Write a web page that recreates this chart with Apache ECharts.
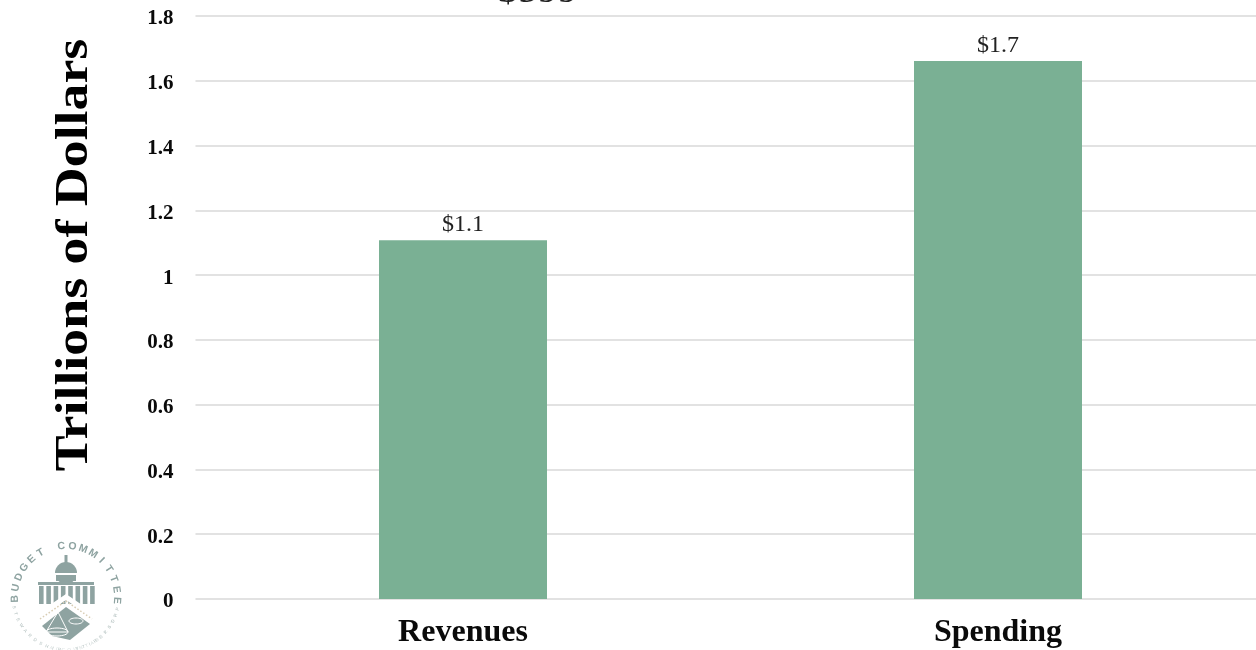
<!DOCTYPE html>
<html><head><meta charset="utf-8">
<style>html,body{margin:0;padding:0;background:#fff;overflow:hidden;width:1256px;height:650px}#c{width:1270px;height:650px}</style>
<script src="https://cdn.jsdelivr.net/npm/echarts@6/dist/echarts.min.js"></script>
</head><body><div id="c"></div>
<script>
const categories = ['Revenues', 'Spending'];
const values = [1.108, 1.661];
const barLabels = ['$1.1', '$1.7'];
const yTitle = 'Trillions of Dollars';
const clippedHeading = '$599';
const SERIF = '"Liberation Serif","DejaVu Serif",serif';
const LOGO = '#8ea3a1';

const chart = echarts.init(document.getElementById('c'), null, {renderer:'canvas', width:1270, height:650});

// logo pieces
const cx = 66, cy = 597, logo = [];
function arcText(str, startDeg, stepDeg, r, size, color, weight, inward){
  [...str].forEach((ch,i)=>{
    const d = startDeg + i*stepDeg, a = d*Math.PI/180;
    logo.push({type:'text', x:cx+r*Math.sin(a), y:cy-r*Math.cos(a), rotation: inward ? -a : Math.PI-a,
      style:{text:ch, fill:color, font:`${weight} ${size}px "Liberation Sans",sans-serif`, align:'center', verticalAlign:'middle'}, silent:true});
  });
}
arcText('BUDGET COMMITTEE', -92, 12.4, 51, 10.5, LOGO, 'bold', true);
arcText('STEWARDSHIP', -101, -7.2, 53, 4.5, '#aebcbb', 'normal', false);
arcText('ACCOUNTABILITY', 196, -6.5, 53, 4.5, '#d3dbda', 'normal', false);
arcText('PROSPERITY', 103, 7.2, 53, 4.5, '#aebcbb', 'normal', false);
// dome
logo.push({type:'circle', shape:{cx:66, cy:573, r:11}, style:{fill:LOGO}, silent:true});
logo.push({type:'rect', shape:{x:55, y:573, width:22, height:5}, style:{fill:'#fff'}, silent:true});
logo.push({type:'rect', shape:{x:64.5, y:555, width:3, height:8}, style:{fill:LOGO}, silent:true});
logo.push({type:'rect', shape:{x:56, y:575, width:20, height:6}, style:{fill:LOGO}, silent:true});
logo.push({type:'rect', shape:{x:38, y:582, width:56, height:3}, style:{fill:LOGO}, silent:true});
for(let i=0;i<8;i++){
  logo.push({type:'rect', shape:{x:39+i*7.3, y:586, width:4.6, height:18}, style:{fill:LOGO}, silent:true});
}
logo.push({type:'polygon', shape:{points:[[42,626],[66,607],[90,624],[70,640],[52,636]]}, style:{fill:LOGO}, silent:true});
logo.push({type:'polyline', shape:{points:[[38,616],[66,597],[94,616]]}, style:{stroke:'#fff', lineWidth:5, fill:null}, silent:true});
logo.push({type:'polyline', shape:{points:[[40,619],[66,601],[92,619]]}, style:{stroke:'#d8cdb4', lineWidth:1.5, lineDash:[1.5,2], fill:null}, silent:true});
logo.push({type:'polygon', shape:{points:[[46,632],[58,612],[68,632]]}, style:{fill:'none', stroke:'#fff', lineWidth:1}, silent:true});
logo.push({type:'ellipse', shape:{cx:57, cy:632, rx:11, ry:4}, style:{fill:'none', stroke:'#fff', lineWidth:1}, silent:true});
logo.push({type:'ellipse', shape:{cx:76, cy:621, rx:7, ry:3}, style:{fill:'none', stroke:'#fff', lineWidth:1}, silent:true});

chart.setOption({
  animation:false,
  backgroundColor:'#fff',
  grid:{left:195.5, width:1070, top:16, height:583},
  xAxis:{type:'category', data:categories,
    axisLine:{show:false}, axisTick:{show:false},
    axisLabel:{color:'#0a0a0a', fontFamily:SERIF, fontWeight:'bold', fontSize:32, margin:18}},
  yAxis:{type:'value', min:0, max:1.8, interval:0.2,
    axisLine:{show:false}, axisTick:{show:false},
    splitLine:{lineStyle:{color:'#e2e2e2', width:2}},
    axisLabel:{margin:22,
      rich:{t:{color:'#0a0a0a', fontFamily:SERIF, fontWeight:'bold', fontSize:21, padding:[6,0,0,0]}},
      formatter:v=>'{t|'+(+v.toFixed(1))+'}'}},
  series:[{type:'bar', data:values, barWidth:168, z:3,
    itemStyle:{color:'#7ab094'},
    label:{show:true, position:'top', distance:3, color:'#222', fontFamily:SERIF, fontSize:24,
      formatter:p=>barLabels[p.dataIndex]}}],
  graphic:[
    {type:'text', x:75, y:255, rotation:Math.PI/2, scaleX:1.17, scaleY:1,
      style:{text:yTitle, fill:'#000', font:`bold 46px ${SERIF}`, align:'center', verticalAlign:'middle'}, silent:true},
    {type:'text', x:538, y:-9, style:{text:clippedHeading, fill:'#222', font:`40px ${SERIF}`, align:'center', verticalAlign:'middle'}, silent:true},
    ...logo
  ]
});
</script></body></html>
